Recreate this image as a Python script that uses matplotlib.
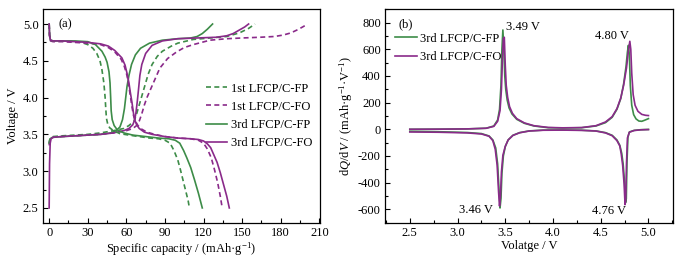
import numpy as np
import matplotlib.pyplot as plt
from matplotlib.ticker import MultipleLocator

plt.rcParams['font.family'] = ['Liberation Serif', 'DejaVu Serif']
plt.rcParams['mathtext.fontset'] = 'custom'
plt.rcParams['mathtext.rm'] = 'Liberation Serif'
plt.rcParams['mathtext.it'] = 'Liberation Serif:italic'
plt.rcParams['axes.unicode_minus'] = False
plt.rcParams['font.size'] = 9

GREEN = '#3d8c48'
PURPLE = '#8a2a8a'

# ---- (a) charge / discharge profiles: capacity (mAh/g), voltage (V)
fp1_chg_cap = [0, 0.5, 1.5, 3, 10, 20, 30, 40, 50, 58, 62, 66, 68, 70, 72, 75, 77, 80, 84, 88, 95, 100, 112, 125, 138, 148, 155, 160]
fp1_chg_v = [3.38, 3.43, 3.46, 3.47, 3.48, 3.49, 3.5, 3.52, 3.55, 3.58, 3.62, 3.68, 3.78, 3.9, 4.02, 4.2, 4.32, 4.45, 4.56, 4.63, 4.7, 4.74, 4.79, 4.81, 4.83, 4.88, 4.94, 5.0]

fo1_chg_cap = [0, 0.5, 1.5, 3, 10, 20, 30, 40, 50, 60, 65, 68, 70, 72, 74, 76, 79, 82, 86, 92, 99, 105, 112, 125, 138, 150, 164, 175, 182, 188, 194, 199]
fo1_chg_v = [3.35, 3.42, 3.45, 3.46, 3.47, 3.48, 3.49, 3.5, 3.52, 3.55, 3.58, 3.62, 3.68, 3.78, 3.9, 4.0, 4.12, 4.24, 4.4, 4.53, 4.62, 4.68, 4.72, 4.78, 4.8, 4.81, 4.82, 4.83, 4.85, 4.88, 4.93, 4.98]

fp3_chg_cap = [0, 0.5, 1.5, 3, 10, 20, 30, 40, 48, 52, 55, 57, 58.5, 59.5, 60.5, 62, 64, 67, 71, 78, 88, 100, 110, 115, 119, 123, 127]
fp3_chg_v = [3.38, 3.43, 3.45, 3.46, 3.47, 3.48, 3.49, 3.5, 3.52, 3.55, 3.6, 3.7, 3.85, 4.0, 4.15, 4.3, 4.45, 4.58, 4.67, 4.74, 4.78, 4.8, 4.81, 4.83, 4.87, 4.93, 5.0]

fo3_chg_cap = [0, 0.3, 0.8, 1.5, 3, 10, 20, 30, 40, 50, 58, 62, 65, 66.5, 67.5, 68.5, 69.5, 70.5, 72, 75, 80, 88, 100, 115, 130, 138, 143, 148, 152, 155]
fo3_chg_v = [2.5, 3.1, 3.38, 3.44, 3.46, 3.47, 3.48, 3.49, 3.5, 3.52, 3.55, 3.58, 3.63, 3.7, 3.8, 3.95, 4.12, 4.3, 4.45, 4.6, 4.71, 4.77, 4.8, 4.81, 4.82, 4.84, 4.87, 4.92, 4.96, 5.0]

fp1_dis_cap = [0, 0.3, 1, 3, 10, 20, 25, 30, 34, 37, 39.5, 41, 42.5, 43.5, 44, 44.5, 45.5, 47, 50, 55, 62, 70, 78, 85, 90, 94, 97, 100, 102, 104, 106, 108, 109]
fp1_dis_v = [5.0, 4.85, 4.78, 4.77, 4.77, 4.76, 4.75, 4.72, 4.67, 4.6, 4.5, 4.38, 4.2, 4.0, 3.85, 3.72, 3.64, 3.59, 3.55, 3.51, 3.49, 3.47, 3.45, 3.44, 3.42, 3.38, 3.28, 3.15, 3.02, 2.88, 2.74, 2.6, 2.5]

fp3_dis_cap = [0, 0.3, 1, 3, 10, 20, 30, 36, 41, 43.5, 45, 46.5, 47.3, 47.8, 48.2, 49, 50.5, 53, 58, 65, 75, 85, 93, 98, 101.5, 104.5, 107, 110, 113, 116, 119]
fp3_dis_v = [5.0, 4.85, 4.78, 4.77, 4.77, 4.77, 4.76, 4.72, 4.63, 4.55, 4.48, 4.35, 4.2, 4.0, 3.82, 3.7, 3.62, 3.56, 3.52, 3.49, 3.47, 3.45, 3.44, 3.42, 3.38, 3.28, 3.18, 3.05, 2.88, 2.7, 2.5]

fo3_dis_cap = [0, 0.3, 1, 3, 10, 20, 30, 40, 46, 51, 56.5, 59, 60.5, 62, 63, 64.3, 65.6, 66.5, 68, 70, 74, 80, 90, 100, 110, 116, 120, 123, 125.5, 128, 130.5, 133, 135.5, 138, 140]
fo3_dis_v = [5.0, 4.85, 4.78, 4.77, 4.77, 4.76, 4.75, 4.73, 4.7, 4.64, 4.54, 4.44, 4.33, 4.2, 4.08, 3.94, 3.78, 3.7, 3.63, 3.58, 3.53, 3.5, 3.47, 3.45, 3.44, 3.43, 3.41, 3.37, 3.32, 3.22, 3.12, 2.98, 2.82, 2.66, 2.5]

fo1_dis_cap = [0, 0.3, 1, 3, 10, 20, 30, 40, 46, 51, 56, 58.5, 60.5, 62, 63.3, 64.5, 65.5, 67, 69, 72, 76, 82, 90, 100, 110, 116, 120, 123, 126, 128.5, 131, 133, 134.5]
fo1_dis_v = [5.0, 4.84, 4.77, 4.76, 4.76, 4.75, 4.74, 4.72, 4.68, 4.62, 4.52, 4.42, 4.3, 4.15, 4.0, 3.86, 3.76, 3.68, 3.62, 3.57, 3.53, 3.5, 3.47, 3.45, 3.44, 3.42, 3.38, 3.3, 3.18, 3.02, 2.84, 2.66, 2.5]

# ---- (b) dQ/dV curves
fp_chg_v = [2.5, 2.8, 3.1, 3.3, 3.38, 3.42, 3.44, 3.455, 3.465, 3.475, 3.485, 3.495, 3.505, 3.52, 3.54, 3.57, 3.62, 3.7, 3.8, 3.95, 4.1, 4.3, 4.45, 4.55, 4.62, 4.67, 4.71, 4.74, 4.765, 4.78, 4.79, 4.8, 4.81, 4.825, 4.845, 4.87, 4.9, 4.93, 4.96, 5.0]
fp_chg_dq = [0, 1, 3, 8, 25, 70, 150, 330, 600, 745, 600, 400, 300, 220, 160, 115, 75, 45, 25, 12, 10, 12, 25, 50, 90, 150, 230, 340, 470, 580, 630, 560, 330, 180, 110, 78, 62, 60, 68, 80]

fo_chg_v = [2.5, 2.8, 3.1, 3.3, 3.38, 3.42, 3.445, 3.46, 3.47, 3.48, 3.49, 3.5, 3.51, 3.525, 3.545, 3.575, 3.62, 3.7, 3.8, 3.95, 4.1, 4.3, 4.45, 4.55, 4.62, 4.67, 4.71, 4.74, 4.77, 4.79, 4.805, 4.815, 4.825, 4.84, 4.86, 4.89, 4.93, 4.97, 5.0]
fo_chg_dq = [0, 1, 3, 8, 22, 60, 140, 300, 520, 680, 690, 480, 330, 240, 170, 120, 80, 48, 27, 14, 11, 13, 27, 55, 95, 155, 235, 330, 460, 590, 660, 600, 420, 260, 180, 135, 112, 105, 103]

fp_dis_v = [2.5, 2.8, 3.1, 3.25, 3.33, 3.37, 3.4, 3.42, 3.435, 3.445, 3.455, 3.465, 3.48, 3.5, 3.53, 3.58, 3.65, 3.75, 3.9, 4.1, 4.3, 4.45, 4.55, 4.62, 4.67, 4.7, 4.72, 4.735, 4.75, 4.76, 4.768, 4.775, 4.785, 4.8, 4.85, 4.92, 5.0]
fp_dis_dq = [-15, -18, -24, -32, -50, -80, -140, -260, -460, -590, -520, -330, -200, -130, -80, -45, -25, -12, -6, -5, -7, -12, -25, -45, -80, -120, -180, -260, -400, -550, -520, -250, -60, -20, -8, -3, -1]

fo_dis_v = [2.5, 2.8, 3.1, 3.25, 3.33, 3.37, 3.395, 3.415, 3.43, 3.44, 3.45, 3.46, 3.475, 3.5, 3.53, 3.58, 3.65, 3.75, 3.9, 4.1, 4.3, 4.45, 4.55, 4.62, 4.67, 4.7, 4.715, 4.73, 4.745, 4.755, 4.762, 4.77, 4.78, 4.8, 4.85, 4.92, 5.0]
fo_dis_dq = [-20, -22, -27, -35, -52, -85, -150, -270, -470, -575, -500, -320, -195, -128, -80, -46, -26, -13, -7, -6, -8, -13, -27, -48, -85, -125, -185, -270, -410, -565, -530, -260, -65, -22, -9, -4, -2]

fig = plt.figure(figsize=(6.87, 2.58), dpi=100)
ax1 = fig.add_axes([0.0622, 0.137, 0.4036, 0.827])
ax2 = fig.add_axes([0.5604, 0.137, 0.4196, 0.827])

lw = 1.2
dash = (0, (3, 2))
ax1.plot(fp1_chg_cap, fp1_chg_v, color=GREEN, lw=lw, ls=dash, label='1st LFCP/C-FP')
ax1.plot(fo1_chg_cap, fo1_chg_v, color=PURPLE, lw=lw, ls=dash, label='1st LFCP/C-FO')
ax1.plot(fp3_chg_cap, fp3_chg_v, color=GREEN, lw=lw, label='3rd LFCP/C-FP')
ax1.plot(fo3_chg_cap, fo3_chg_v, color=PURPLE, lw=lw, label='3rd LFCP/C-FO')
ax1.plot(fp1_dis_cap, fp1_dis_v, color=GREEN, lw=lw, ls=dash)
ax1.plot(fo1_dis_cap, fo1_dis_v, color=PURPLE, lw=lw, ls=dash)
ax1.plot(fp3_dis_cap, fp3_dis_v, color=GREEN, lw=lw)
ax1.plot(fo3_dis_cap, fo3_dis_v, color=PURPLE, lw=lw)

ax1.set_xlim(-5, 210.5)
ax1.set_ylim(2.3, 5.2)
ax1.xaxis.set_major_locator(MultipleLocator(30))
ax1.xaxis.set_minor_locator(MultipleLocator(15))
ax1.yaxis.set_major_locator(MultipleLocator(0.5))
ax1.yaxis.set_minor_locator(MultipleLocator(0.25))
ax1.set_xlabel('Specific capacity / (mAh·g$^{-1}$)', labelpad=1)
ax1.set_ylabel('Voltage / V', labelpad=3)
ax1.text(7, 5.0, '(a)', ha='left', va='center')
ax1.legend(loc='center right', bbox_to_anchor=(0.99, 0.5), frameon=False,
           handlelength=1.7, handletextpad=0.3, labelspacing=0.5, borderaxespad=0)

ax2.plot(fp_chg_v, fp_chg_dq, color=GREEN, lw=lw, label='3rd LFCP/C-FP')
ax2.plot(fo_chg_v, fo_chg_dq, color=PURPLE, lw=lw, label='3rd LFCP/C-FO')
ax2.plot(fp_dis_v, fp_dis_dq, color=GREEN, lw=lw)
ax2.plot(fo_dis_v, fo_dis_dq, color=PURPLE, lw=lw)
ax2.set_xlim(2.24, 5.26)
ax2.set_ylim(-700, 900)
ax2.xaxis.set_major_locator(MultipleLocator(0.5))
ax2.xaxis.set_minor_locator(MultipleLocator(0.25))
ax2.yaxis.set_major_locator(MultipleLocator(200))
ax2.yaxis.set_minor_locator(MultipleLocator(100))
ax2.set_xlabel('Volatge / V', labelpad=1)
ax2.set_ylabel('d$Q$/d$V$ / (mAh·g$^{-1}$·V$^{-1}$)', labelpad=2)
ax2.text(2.385, 790, '(b)', ha='left', va='center')
ax2.text(3.51, 770, '3.49 V', ha='left', va='center')
ax2.text(4.62, 700, '4.80 V', ha='center', va='center')
ax2.text(3.19, -605, '3.46 V', ha='center', va='center')
ax2.text(4.585, -610, '4.76 V', ha='center', va='center')
ax2.legend(loc='upper left', bbox_to_anchor=(0.01, 0.925), frameon=False,
           handlelength=1.7, handletextpad=0.3, labelspacing=0.5, borderaxespad=0.2)

for ax in (ax1, ax2):
    ax.tick_params(which='both', direction='in', top=False, right=False, labelsize=9, pad=3)
    ax.tick_params(which='major', length=3.5, width=0.8)
    ax.tick_params(which='minor', length=2, width=0.8)
    for s in ax.spines.values():
        s.set_linewidth(0.9)

fig.savefig('out.png', dpi=100)
